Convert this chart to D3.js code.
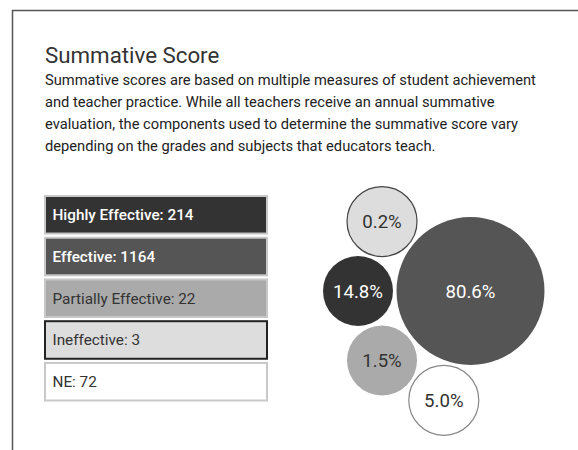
<!DOCTYPE html>
<html lang="en">
<head>
    <meta charset="UTF-8">
    <title>Summative Score</title>
    <script src="https://d3js.org/d3.v7.min.js"></script>
    <style>
        body { margin: 0; background: #fff; font-family: Roboto, sans-serif; }
    </style>
</head>
<body>
    <div id="chart"></div>
    <script>
        // rating categories, teacher counts and the percentages shown on the bubbles
        const categories = ["Highly Effective", "Effective", "Partially Effective", "Ineffective", "NE"];
        const counts = [214, 1164, 22, 3, 72];
        const percents = [14.8, 80.6, 1.5, 0.2, 5.0];
        const fills = ["#333333", "#555555", "#aaaaaa", "#dddddd", "#ffffff"];
        const textColors = ["#fff", "#fff", "#333", "#333", "#333"];

        const title = "Summative Score";
        const descLines = [
            "Summative scores are based on multiple measures of student achievement",
            "and teacher practice. While all teachers receive an annual summative",
            "evaluation, the components used to determine the summative score vary",
            "depending on the grades and subjects that educators teach."
        ];

        const W = 578, H = 450;
        const svg = d3.select("#chart").append("svg")
            .attr("width", W)
            .attr("height", H);

        // outer frame
        svg.append("rect")
            .attr("x", 12.5).attr("y", 10.5)
            .attr("width", 600).attr("height", 500)
            .attr("fill", "none")
            .attr("stroke", "#555")
            .attr("stroke-width", 1.5);

        svg.append("text")
            .attr("x", 45).attr("y", 63)
            .attr("font-size", 22.3)
            .attr("fill", "#333")
            .text(title);

        svg.append("g").selectAll("text")
            .data(descLines)
            .join("text")
            .attr("x", 45)
            .attr("y", (d, i) => 85 + i * 22)
            .attr("font-size", 14.7)
            .attr("fill", "#222")
            .text(d => d);

        // legend boxes
        const data = categories.map((c, i) => ({
            name: c, value: counts[i], pct: percents[i], fill: fills[i], text: textColors[i], i: i
        }));

        const yBand = d3.scaleBand()
            .domain(categories)
            .range([196, 400.5])
            .paddingInner(0.1);

        const legend = svg.append("g").selectAll("g")
            .data(data)
            .join("g")
            .attr("transform", d => `translate(45,${yBand(d.name)})`);

        legend.append("rect")
            .attr("width", 222)
            .attr("height", yBand.bandwidth())
            .attr("fill", d => d.fill)
            .attr("stroke", d => d.name === "Ineffective" ? "#222" : "#c8c8c8")
            .attr("stroke-width", 2);

        legend.append("text")
            .attr("x", 7.5)
            .attr("y", yBand.bandwidth() / 2)
            .attr("dy", "0.35em")
            .attr("font-size", 15.3)
            .attr("font-weight", d => d.i < 2 ? 500 : 400)
            .attr("fill", d => d.text)
            .text(d => `${d.name}: ${d.value}`);

        // bubbles
        const rScale = d3.scaleSqrt().domain([0, d3.max(counts)]).range([0, 74]);
        const minR = 35, pad = 1.75;
        const order = ["Effective", "Highly Effective", "Ineffective", "Partially Effective", "NE"];
        const nodes = order.map(name => {
            const d = data.find(e => e.name === name);
            const r = Math.max(minR, rScale(d.value));
            return Object.assign({}, d, { r: r + pad, rr: r });
        });
        d3.packSiblings(nodes);

        const anchor = nodes[0];
        const x = d3.scaleLinear().domain([anchor.x, anchor.x + 1]).range([470.5, 469.5]);
        const y = d3.scaleLinear().domain([anchor.y, anchor.y + 1]).range([291, 290]);

        const bubble = svg.append("g").selectAll("g")
            .data(nodes)
            .join("g")
            .attr("transform", d => `translate(${x(d.x)},${y(d.y)})`);

        bubble.append("circle")
            .attr("r", d => d.rr)
            .attr("fill", d => d.fill)
            .attr("stroke", d => d.name === "Ineffective" ? "#444" : (d.name === "NE" ? "#888" : "none"))
            .attr("stroke-width", 1.2);

        bubble.append("text")
            .attr("text-anchor", "middle")
            .attr("dy", "0.35em")
            .attr("font-size", 18.6)
            .attr("fill", d => d.text)
            .text(d => d.pct.toFixed(1) + "%");
    </script>
</body>
</html>
